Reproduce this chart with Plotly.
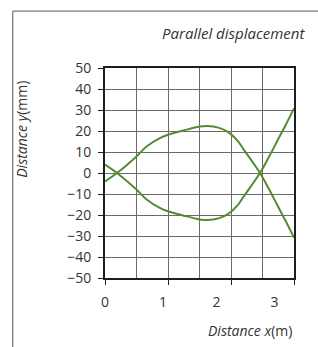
import plotly.graph_objects as go

# Data
x_m = [0.0, 0.19, 0.5, 0.66, 0.87, 1.0, 1.24, 1.5, 1.63, 1.8, 1.95, 2.1, 2.21, 2.46, 2.6, 2.73, 2.87, 3.0]
upper_mm = [-4.0, 0.0, 7.9, 12.6, 16.6, 18.2, 20.2, 22.1, 22.4, 21.6, 19.6, 15.5, 10.8, 0.0, -7.5, -15.0, -23.0, -30.8]
lower_mm = [4.0, 0.0, -7.9, -12.6, -16.6, -18.2, -20.2, -22.1, -22.4, -21.6, -19.6, -15.5, -10.8, 0.0, 7.5, 15.0, 23.0, 30.8]

x_tick_labels = ["0", "1", "2", "3"]
x_tick_label_pos = [0.0, 0.92, 1.77, 2.69]
y_ticks = [-50, -40, -30, -20, -10, 0, 10, 20, 30, 40, 50]

LINE = "#568a32"
GRID = "#6a6a6a"
AXIS = "#1e1e1e"
TXT = "#333333"
FONT = "Open Sans"

fig = go.Figure()
for ys in (upper_mm, lower_mm):
    fig.add_trace(go.Scatter(x=x_m, y=ys, mode="lines",
                             line=dict(color=LINE, width=2, shape="spline", smoothing=1.0),
                             showlegend=False, hoverinfo="skip"))

fig.update_layout(
    width=318, height=347,
    margin=dict(l=105, r=24, t=68, b=69),
    paper_bgcolor="white", plot_bgcolor="white",
    font=dict(family=FONT, size=13, color=TXT),
    xaxis=dict(range=[0, 3], dtick=1, tick0=0, ticks="outside", ticklen=5, tickcolor=AXIS,
               showticklabels=False, showgrid=True, gridcolor=GRID, gridwidth=1,
               minor=dict(dtick=0.5, tick0=0, showgrid=True, gridcolor=GRID, gridwidth=1, ticks=""),
               zeroline=False, showline=True, linecolor=AXIS, linewidth=2, mirror=True,
               fixedrange=True),
    xaxis2=dict(range=[0, 3], overlaying="x", side="bottom", anchor="y",
                tickmode="array", tickvals=x_tick_label_pos, ticktext=x_tick_labels,
                ticks="", showgrid=False, zeroline=False, showline=False,
                ticklabelstandoff=14, tickfont=dict(family=FONT, size=14, color=TXT)),
    yaxis=dict(range=[-50, 50], tickvals=y_ticks, ticks="outside", ticklen=5, tickcolor=AXIS,
               showgrid=True, gridcolor=GRID, gridwidth=1, zeroline=False,
               showline=True, linecolor=AXIS, linewidth=2, mirror=True,
               ticklabelstandoff=4, tickfont=dict(family=FONT, size=14, color=TXT)),
)
# dummy trace to activate xaxis2
fig.add_trace(go.Scatter(x=[None], y=[None], xaxis="x2", yaxis="y", showlegend=False))

fig.add_annotation(text="<i>Parallel displacement</i>", xref="paper", yref="paper",
                   x=1.07, y=1.165, xanchor="right", yanchor="middle", showarrow=False,
                   font=dict(family=FONT, size=15, color=TXT))
fig.add_annotation(text="<i>Distance y</i>(mm)", xref="paper", yref="paper",
                   x=-0.44, y=0.71, xanchor="center", yanchor="middle", textangle=-90,
                   showarrow=False, font=dict(family=FONT, size=14, color=TXT))
fig.add_annotation(text="<i>Distance x</i>(m)", xref="paper", yref="paper",
                   x=1.0, y=-0.248, xanchor="right", yanchor="middle", showarrow=False,
                   font=dict(family=FONT, size=14, color=TXT))

# outer frame (left and top edges)
fig.add_shape(type="line", xref="paper", yref="paper", x0=-0.488, x1=-0.488, y0=1.271, y1=-0.45,
              line=dict(color="#555555", width=1))
fig.add_shape(type="line", xref="paper", yref="paper", x0=-0.488, x1=1.3, y0=1.271, y1=1.271,
              line=dict(color="#555555", width=1))

fig.write_html("out.html", config={"displayModeBar": False},
               post_script="document.body.style.margin='0';")
